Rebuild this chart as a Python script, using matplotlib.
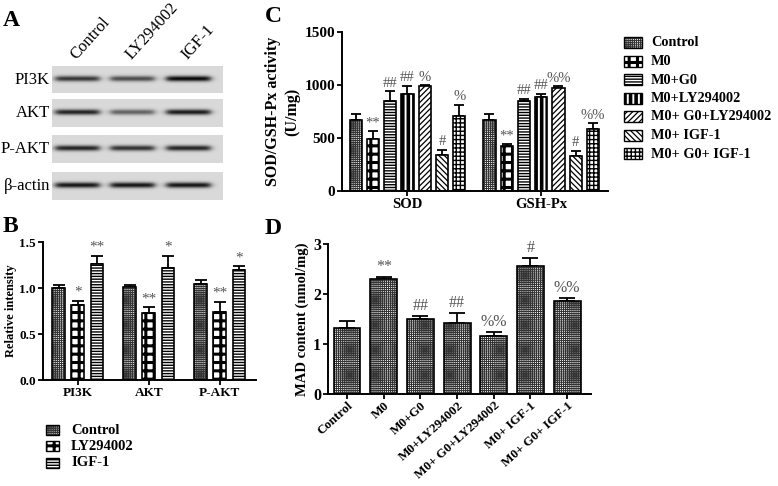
import numpy as np
import matplotlib
matplotlib.use("Agg")
import matplotlib.pyplot as plt
from matplotlib.patches import Rectangle

plt.rcParams['font.family'] = ['Liberation Serif', 'DejaVu Serif']
plt.rcParams['hatch.linewidth'] = 0.8

# ---------------- data ----------------
blot_lanes = ["Control", "LY294002", "IGF-1"]
blot_rows = ["PI3K", "AKT", "P-AKT", "β-actin"]
blot_band_pi3k = [0.72, 0.62, 0.92]
blot_band_akt = [0.80, 0.52, 0.84]
blot_band_pakt = [0.80, 0.74, 0.80]
blot_band_actin = [0.86, 0.86, 0.86]

b_groups = ["PI3K", "AKT", "P-AKT"]
b_series = ["Control", "LY294002", "IGF-1"]
b_control = [1.00, 1.01, 1.04]
b_control_err = [0.03, 0.02, 0.05]
b_ly = [0.81, 0.73, 0.74]
b_ly_err = [0.05, 0.06, 0.11]
b_igf = [1.26, 1.22, 1.20]
b_igf_err = [0.09, 0.13, 0.04]
b_ann_control = ["", "", ""]
b_ann_ly = ["*", "**", "**"]
b_ann_igf = ["**", "*", "*"]
b_ticks = [0.0, 0.5, 1.0, 1.5]

c_groups = ["SOD", "GSH-Px"]
c_series = ["Control", "M0", "M0+G0", "M0+LY294002", "M0+ G0+LY294002",
            "M0+ IGF-1", "M0+ G0+ IGF-1"]
c_sod = [670, 490, 850, 916, 991, 337, 708]
c_sod_err = [58, 78, 90, 75, 6, 52, 105]
c_gsh = [669, 422, 850, 886, 970, 329, 585]
c_gsh_err = [60, 21, 18, 30, 18, 51, 54]
c_sod_ann = ["", "**", "##", "##", "%", "#", "%"]
c_gsh_ann = ["", "**", "##", "##", "%%", "#", "%%"]
c_ticks = [0, 500, 1000, 1500]

d_categories = ["Control", "M0", "M0+G0", "M0+LY294002", "M0+ G0+LY294002",
                "M0+ IGF-1", "M0+ G0+ IGF-1"]
d_values = [1.33, 2.31, 1.50, 1.43, 1.16, 2.57, 1.87]
d_errors = [0.13, 0.04, 0.07, 0.20, 0.08, 0.16, 0.05]
d_ann = ["", "**", "##", "##", "%%", "#", "%%"]
d_ticks = [0, 1, 2, 3]

# ---------------- styles ----------------
hatches = ['++++++++', '++', '------', '|||', '//////', '\\\\\\\\\\\\', '++++']
hatch_lw = [0.75, 2.2, 1.0, 2.6, 0.9, 0.9, 1.0]
hatch_col = ['#333333', 'black', 'black', 'black', 'black', 'black', 'black']
ann_color = '#555555'

W, H = 778, 486
fig = plt.figure(figsize=(W / 100, H / 100), dpi=100)


def rect(l, t, r, b):
    return [l / W, 1 - b / H, (r - l) / W, (b - t) / H]


def style_axes(ax, fs):
    for s in ['top', 'right']:
        ax.spines[s].set_visible(False)
    for s in ['left', 'bottom']:
        ax.spines[s].set_linewidth(1.4)
    ax.tick_params(direction='out', length=3.5, width=1.3, labelsize=fs, pad=1.5)
    for lab in ax.get_yticklabels() + ax.get_xticklabels():
        lab.set_fontweight('bold')


def draw_bar(ax, x, h, w, i, err, capw):
    b = ax.bar(x, h, w, facecolor='white', edgecolor=hatch_col[i], hatch=hatches[i],
               linewidth=0, zorder=2)
    for p in b.patches:
        try:
            p.set_hatch_linewidth(hatch_lw[i])
        except Exception:
            pass
    ax.bar(x, h, w, facecolor='none', edgecolor='black', linewidth=1.2, zorder=3)
    ax.errorbar(x, h, yerr=[[0] * np.size(h), err], fmt='none', ecolor='black',
                elinewidth=1.3, capsize=capw, capthick=1.3, zorder=1)


# ---------------- Panel A: blot ----------------
fig.text(3 / W, 1 - 20 / H, "A", fontsize=17, fontweight='bold', va='center', ha='left')
strips = [(52, 66, 223, 93), (52, 99, 223, 127), (52, 135, 223, 163), (52, 172, 223, 200)]
bands = [blot_band_pi3k, blot_band_akt, blot_band_pakt, blot_band_actin]
lane_px = [77, 132, 188]
for (l, t, r, b), name, inten in zip(strips, blot_rows, bands):
    axb = fig.add_axes(rect(l, t, r, b))
    wpx, hpx = r - l, b - t
    xx = np.arange(wpx)[None, :]
    yy = np.arange(hpx)[:, None]
    img = np.full((hpx, wpx), 0.85)
    for lc, k in zip(lane_px, inten):
        c = lc - l
        px_ = 1 / (1 + np.exp((np.abs(xx - c) - 22) / 2.0))
        py_ = np.exp(-((yy - hpx * 0.45) / 2.8) ** 2)
        img = img - k * 0.88 * px_ * py_
    axb.imshow(np.clip(img, 0, 1), cmap='gray', vmin=0, vmax=1, aspect='auto',
               interpolation='bilinear')
    axb.axis('off')
    fig.text(50 / W, 1 - ((t + b) / 2) / H, name, fontsize=12, ha='right', va='center')
for lc, name in zip(lane_px, blot_lanes):
    fig.text((lc + 2) / W, 1 - 63 / H, name, fontsize=12, rotation=48,
             rotation_mode='anchor', ha='left', va='bottom')

# ---------------- Panel B ----------------
fig.text(3 / W, 1 - 226 / H, "B", fontsize=17, fontweight='bold', va='center', ha='left')
axB = fig.add_axes(rect(43, 242, 256, 380))
xg = np.arange(len(b_groups))
offs = [-0.27, 0.0, 0.27]
b_vals = [b_control, b_ly, b_igf]
b_errs = [b_control_err, b_ly_err, b_igf_err]
b_anns = [b_ann_control, b_ann_ly, b_ann_igf]
b_style = [0, 1, 2]
for k in range(3):
    draw_bar(axB, xg + offs[k], b_vals[k], 0.18, b_style[k], b_errs[k], 4.5)
    for j in range(len(xg)):
        if b_anns[k][j]:
            axB.text(xg[j] + offs[k], b_vals[k][j] + b_errs[k][j] + 0.02, b_anns[k][j],
                     ha='center', va='bottom', fontsize=11, color=ann_color)
axB.set_xlim(-0.49, 2.51)
axB.set_ylim(0, 1.5)
axB.set_yticks(b_ticks)
axB.set_yticklabels([f"{v:.1f}" for v in b_ticks])
axB.set_xticks(xg)
axB.set_xticklabels(b_groups)
axB.set_ylabel("Relative intensity", fontsize=9, fontweight='bold', labelpad=2)
style_axes(axB, 9.5)

# legend B
axLB = fig.add_axes(rect(0, 420, 240, 475))
axLB.set_xlim(0, 240)
axLB.set_ylim(475, 420)
axLB.axis('off')
for k, (name, yc) in enumerate(zip(b_series, [430, 446, 463])):
    i = b_style[k]
    p = Rectangle((46, yc - 5), 13, 10, facecolor='white', edgecolor=hatch_col[i],
                  hatch=hatches[i], linewidth=0)
    try:
        p.set_hatch_linewidth(hatch_lw[i])
    except Exception:
        pass
    axLB.add_patch(p)
    axLB.add_patch(Rectangle((46, yc - 5), 13, 10, facecolor='none', edgecolor='black', linewidth=1))
    axLB.text(71, yc, name, fontsize=10.5, fontweight='bold', va='center', ha='left')

# ---------------- Panel C ----------------
fig.text(265 / W, 1 - 17 / H, "C", fontsize=17, fontweight='bold', va='center', ha='left')
axC = fig.add_axes(rect(342, 32, 608, 191))
xc = np.arange(len(c_groups))
step = 0.129
for i in range(len(c_series)):
    off = (i - 3) * step
    vals = [c_sod[i], c_gsh[i]]
    errs = [c_sod_err[i], c_gsh_err[i]]
    anns = [c_sod_ann[i], c_gsh_ann[i]]
    draw_bar(axC, xc + off, vals, 0.092, i, errs, 3.5)
    for j in range(len(xc)):
        if anns[j]:
            axC.text(xc[j] + off, vals[j] + errs[j] + 15, anns[j], ha='center', va='bottom',
                     fontsize=10.5, color=ann_color)
axC.set_xlim(-0.49, 1.50)
axC.set_ylim(0, 1500)
axC.set_yticks(c_ticks)
axC.set_xticks(xc)
axC.set_xticklabels(c_groups)
axC.set_ylabel("SOD/GSH-Px activity\n(U/mg)", fontsize=11.5, fontweight='bold', labelpad=3,
               linespacing=1.3)
style_axes(axC, 10.5)
for lab in axC.get_yticklabels():
    lab.set_fontsize(11)

# legend C
axLC = fig.add_axes(rect(615, 30, 778, 165))
axLC.set_xlim(615, 778)
axLC.set_ylim(165, 30)
axLC.axis('off')
for i, name in enumerate(c_series):
    yc = 43 + i * 18.5
    p = Rectangle((624, yc - 5.5), 18, 11, facecolor='white', edgecolor=hatch_col[i],
                  hatch=hatches[i], linewidth=0)
    try:
        p.set_hatch_linewidth(hatch_lw[i])
    except Exception:
        pass
    axLC.add_patch(p)
    axLC.add_patch(Rectangle((624, yc - 5.5), 18, 11, facecolor='none', edgecolor='black', linewidth=1))
    axLC.text(651, yc, name, fontsize=10.3, fontweight='bold', va='center', ha='left')

# ---------------- Panel D ----------------
fig.text(265 / W, 1 - 228 / H, "D", fontsize=17, fontweight='bold', va='center', ha='left')
axD = fig.add_axes(rect(328, 244, 591, 394))
xd = np.arange(len(d_categories))
draw_bar(axD, xd, d_values, 0.73, 0, d_errors, 6)
for j in range(len(xd)):
    if d_ann[j]:
        axD.text(xd[j], d_values[j] + d_errors[j] + 0.03, d_ann[j], ha='center', va='bottom',
                 fontsize=11.5, color=ann_color)
axD.set_xlim(-0.52, 6.65)
axD.set_ylim(0, 3)
axD.set_yticks(d_ticks)
axD.set_xticks(xd)
axD.set_xticklabels(d_categories, rotation=42, ha='right', rotation_mode='anchor')
axD.set_ylabel("MAD content (nmol/mg)", fontsize=10.5, fontweight='bold', labelpad=3)
style_axes(axD, 9.4)
axD.tick_params(axis='x', pad=0.5)
for lab in axD.get_yticklabels():
    lab.set_fontsize(11.5)

fig.savefig("out.png", dpi=100)
